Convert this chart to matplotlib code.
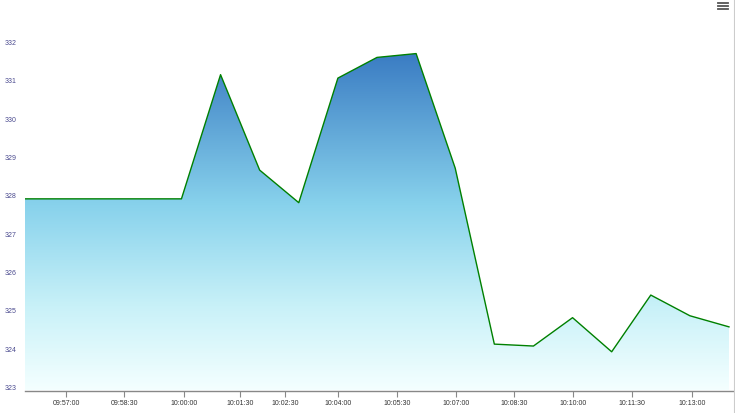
import numpy as np
import matplotlib
matplotlib.use("Agg")
import matplotlib.pyplot as plt
from matplotlib.colors import LinearSegmentedColormap
from matplotlib.transforms import ScaledTranslation
from matplotlib.lines import Line2D

plt.rcParams['font.family'] = ['Liberation Sans', 'DejaVu Sans']

values = [328.0, 328.0, 328.0, 328.0, 328.0, 331.24, 328.75, 327.90, 331.15, 331.69,
          331.79, 328.80, 324.21, 324.16, 324.90, 324.01, 325.49, 324.95, 324.66]
tick_positions = [1.056, 2.539, 4.065, 5.497, 6.648, 8.011, 9.504, 11.02, 12.51, 14.02, 15.51, 17.06]
tick_labels = ["09:57:00", "09:58:30", "10:00:00", "10:01:30", "10:02:30", "10:04:00",
               "10:05:30", "10:07:00", "10:08:30", "10:10:00", "10:11:30", "10:13:00"]
y_ticks = [323, 324, 325, 326, 327, 328, 329, 330, 331, 332]

W, H = 735, 413
fig = plt.figure(figsize=(W / 100, H / 100), dpi=100)
ax = fig.add_axes([25 / W, (H - 390.5) / H, (733 - 25) / W, (390.5 - 10) / H])

x = np.arange(len(values))
ymin = 323
ymax = 323 + (390.5 - 10) / 38.33
xmax = 18 * (708 / 704)
ax.set_xlim(0, xmax)
ax.set_ylim(ymin, ymax)

# gradient fill
cmap = LinearSegmentedColormap.from_list(
    "g", [(0.0, "#f4ffff"), (0.25, "#c8f1f8"), (0.55, "#88d2ec"), (1.0, "#3a7cc3")])
top = max(values)
grad = np.linspace(0, 1, 256).reshape(-1, 1)
im = ax.imshow(grad, extent=[0, x[-1], ymin, top], origin="lower", aspect="auto",
               cmap=cmap, zorder=1)
clip = plt.Polygon(np.vstack([np.column_stack([x, values]),
                              [[x[-1], ymin], [0, ymin]]]),
                   closed=True, transform=ax.transData, facecolor="none", edgecolor="none")
ax.add_patch(clip)
im.set_clip_path(clip)

ax.plot(x, values, color="#008000", lw=1.0, zorder=3)

for s in ["top", "right", "left"]:
    ax.spines[s].set_visible(False)
ax.spines["bottom"].set_color("#888888")
ax.spines["bottom"].set_linewidth(1.0)
ax.spines["bottom"].set_zorder(4)

ax.set_xticks(tick_positions)
ax.set_xticklabels(tick_labels)
ax.tick_params(axis="x", direction="out", length=4, width=0.8, color="#888888",
               labelsize=5.0, labelcolor="#333333", pad=3)
ax.set_yticks(y_ticks)
ax.set_yticklabels([str(v) for v in y_ticks])
ax.tick_params(axis="y", length=0, labelsize=5.0, labelcolor="#4b4b8f", pad=6.3)
off = ScaledTranslation(0, 3 / 100, fig.dpi_scale_trans)
for lab in ax.get_yticklabels():
    lab.set_transform(lab.get_transform() + off)
    lab.set_horizontalalignment("right")

# menu icon
for yy in [3, 6, 9]:
    fig.add_artist(Line2D([718 / W, 728 / W], [1 - yy / H, 1 - yy / H],
                          color="#555555", lw=1.3))
# right border
fig.add_artist(Line2D([733.5 / W, 733.5 / W], [0, 1], color="#cccccc", lw=0.8))

fig.savefig("out.png", dpi=100)
